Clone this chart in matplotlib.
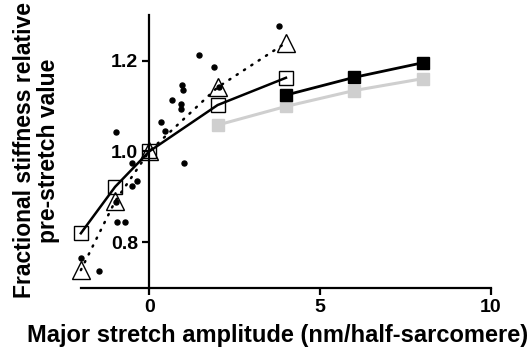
import matplotlib
matplotlib.use("Agg")
import matplotlib.pyplot as plt

plt.rcParams['font.family'] = ['Liberation Sans', 'DejaVu Sans']
plt.rcParams['font.weight'] = 'bold'

# open squares (solid black line)
sq_x = [-2, -1, 0, 2, 4]
sq_y = [0.820, 0.922, 1.0, 1.102, 1.162]
# open triangles (dotted line)
tri_x = [-2, -1, 0, 2, 4]
tri_y = [0.739, 0.890, 1.0, 1.141, 1.239]
# filled black squares
blk_x = [4, 6, 8]
blk_y = [1.124, 1.163, 1.195]
# filled grey squares
gry_x = [2, 4, 6, 8]
gry_y = [1.058, 1.099, 1.134, 1.160]
# individual points
dot_x = [3.8, 1.47, 1.90, 0.95, 1.0, 0.68, 0.93, 0.92, 0.34, 0.46, 1.02, 2.05,
         -0.96, -0.5, -0.35, -0.5, -0.96, -0.93, -0.70, -1.99, -1.48]
dot_y = [1.276, 1.212, 1.185, 1.146, 1.135, 1.114, 1.104, 1.093, 1.064, 1.044, 0.974, 1.142,
         1.043, 0.975, 0.936, 0.925, 0.889, 0.845, 0.845, 0.765, 0.736]

xticks = [0, 5, 10]
yticks = [0.8, 1.0, 1.2]
ytick_labels = ['0.8', '1.0', '1.2']

fig = plt.figure(figsize=(5.32, 3.58), dpi=100)
ax = fig.add_axes([0.152, 0.196, 0.771, 0.762])

ax.plot(gry_x, gry_y, color='#cfcfcf', lw=2.2, marker='s', ms=8, mfc='#cfcfcf', mec='#cfcfcf',
        zorder=2, clip_on=False)
ax.plot(blk_x, blk_y, color='black', lw=2.0, marker='s', ms=8, mfc='black', mec='black',
        zorder=3, clip_on=False)
ax.plot(sq_x, sq_y, color='black', lw=1.8, marker='s', ms=10.5, mfc='none', mec='black', mew=1.0,
        zorder=3, clip_on=False)
ax.plot(tri_x, tri_y, color='black', lw=1.8, ls=(0, (0.5, 3.0)), dash_capstyle='round',
        marker='^', ms=13, mfc='none', mec='black', mew=1.0, zorder=3, clip_on=False)
ax.plot(dot_x, dot_y, ls='none', marker='o', ms=3.6, color='black', zorder=4, clip_on=False)

ax.set_xlim(-2, 10)
ax.set_ylim(0.7, 1.3)
ax.set_xticks(xticks)
ax.set_yticks(yticks)
ax.set_yticklabels(ytick_labels)

ax.spines['top'].set_visible(False)
ax.spines['right'].set_visible(False)
ax.spines['left'].set_position(('data', 0))
for s in ['left', 'bottom']:
    ax.spines[s].set_linewidth(1.6)
ax.tick_params(axis='both', width=1.6, length=5, labelsize=14, pad=3)
for lab in ax.get_xticklabels() + ax.get_yticklabels():
    lab.set_fontweight('bold')

fig.text(0.522, 0.064, 'Major stretch amplitude (nm/half-sarcomere)', ha='center', va='center',
         fontsize=17, fontweight='bold')
fig.text(0.068, 0.58, 'Fractional stiffness relative\npre-stretch value', rotation=90,
         ha='center', va='center', fontsize=16.5, fontweight='bold', linespacing=1.05)

fig.savefig('out.png', dpi=100)
